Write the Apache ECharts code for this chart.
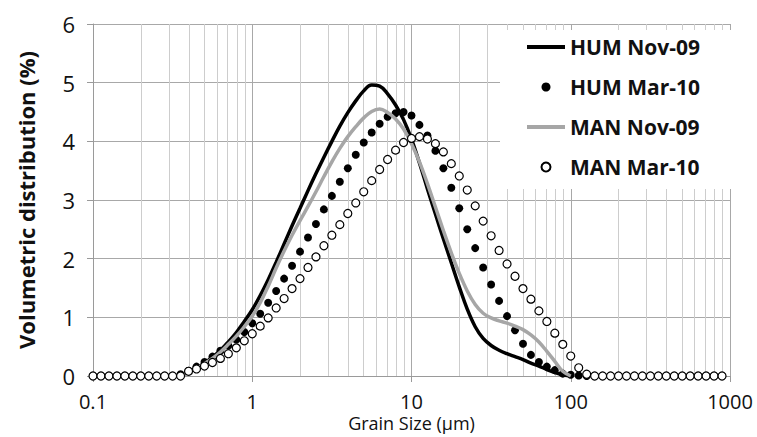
<!DOCTYPE html>
<html>
<head>
<meta charset="utf-8">
<script src="https://cdn.jsdelivr.net/npm/echarts@6/dist/echarts.min.js"></script>
<style>html,body{margin:0;padding:0;background:#fff;}#c{width:757px;height:437px;}</style>
</head>
<body>
<div id="c"></div>
<script>
// Grain sizes (µm), 20 bins per decade
const SIZES = [0.1,0.1122,0.1259,0.1413,0.1585,0.1778,0.1995,0.2239,0.2512,0.2818,
 0.3162,0.3548,0.3981,0.4467,0.5012,0.5623,0.631,0.7079,0.7943,0.8913,
 1,1.122,1.259,1.413,1.585,1.778,1.995,2.239,2.512,2.818,
 3.162,3.548,3.981,4.467,5.012,5.623,6.31,7.079,7.943,8.913,
 10,11.22,12.59,14.13,15.85,17.78,19.95,22.39,25.12,28.18,
 31.62,35.48,39.81,44.67,50.12,56.23,63.1,70.79,79.43,89.13,
 100,112.2,125.9,141.3,158.5,177.8,199.5,223.9,251.2,281.8,
 316.2,354.8,398.1,446.7,501.2,562.3,631,707.9,794.3,891.3];

const HUM_NOV09 = [null,null,null,null,null,null,null,null,null,null,
 null,0.0,0.07,0.14,0.22,0.32,0.44,0.58,0.74,0.93,
 1.13,1.37,1.64,1.94,2.25,2.56,2.86,3.16,3.45,3.73,
 4.00,4.26,4.49,4.69,4.86,4.96,4.94,4.81,4.62,4.37,
 4.04,3.63,3.19,2.76,2.34,1.93,1.52,1.14,0.84,0.64,
 0.52,0.44,0.38,0.33,0.28,0.22,0.17,0.11,0.06,0.02,
 0.0,null,null,null,null,null,null,null,null,null,
 null,null,null,null,null,null,null,null,null,null];

const HUM_MAR10 = [0,0,0,0,0,0,0,0,0,0,
 0,0.03,0.09,0.16,0.24,0.33,0.43,0.52,0.62,0.75,
 0.90,1.06,1.25,1.45,1.66,1.88,2.12,2.36,2.59,2.84,
 3.07,3.31,3.54,3.77,3.98,4.15,4.30,4.42,4.48,4.50,
 4.44,4.28,4.10,3.84,3.54,3.21,2.86,2.50,2.18,1.85,
 1.56,1.28,1.02,0.78,0.55,0.36,0.24,0.16,0.10,0.04,
 0.02,0.01,0,0,0,0,0,0,0,0,
 0,0,0,0,0,0,0,0,0,0];

const MAN_NOV09 = [null,null,null,null,null,null,null,null,null,null,
 null,0.0,0.06,0.13,0.21,0.30,0.41,0.54,0.68,0.84,
 1.02,1.25,1.53,1.84,2.13,2.40,2.65,2.89,3.14,3.40,
 3.65,3.88,4.08,4.25,4.40,4.51,4.55,4.49,4.38,4.21,
 3.96,3.65,3.28,2.88,2.48,2.10,1.75,1.45,1.22,1.07,
 0.99,0.94,0.90,0.85,0.79,0.70,0.58,0.42,0.25,0.08,
 0.0,null,null,null,null,null,null,null,null,null,
 null,null,null,null,null,null,null,null,null,null];

const MAN_MAR10 = [0,0,0,0,0,0,0,0,0,0,
 0,0,0.08,0.12,0.17,0.23,0.30,0.38,0.48,0.60,
 0.72,0.85,0.99,1.16,1.32,1.49,1.66,1.85,2.03,2.22,
 2.40,2.58,2.77,2.95,3.14,3.33,3.52,3.69,3.85,3.98,
 4.05,4.08,4.04,3.96,3.82,3.62,3.41,3.17,2.90,2.64,
 2.39,2.14,1.91,1.70,1.49,1.31,1.11,0.93,0.73,0.54,
 0.34,0.14,0.03,0,0,0,0,0,0,0,
 0,0,0,0,0,0,0,0,0,0];

const SERIES_NAMES = ['HUM Nov-09','HUM Mar-10','MAN Nov-09','MAN Mar-10'];
const X_TICKS = [0.1, 1, 10, 100, 1000];
const MINOR_TICKS = [0.2,0.3,0.4,0.5,0.6,0.7,0.8,0.9,2,3,4,5,6,7,8,9,
 20,30,40,50,60,70,80,90,200,300,400,500,600,700,800,900];

function pairs(vals){
  const out = [];
  vals.forEach((v,i)=>{ if (v !== null) out.push([SIZES[i], v]); });
  return out;
}

const LINE_ICON = 'path://M0,0 L38,0 L38,4 L0,4 Z';
const FONT = '"Open Sans", "Liberation Sans", sans-serif';
const chart = echarts.init(document.getElementById('c'), null, {renderer:'svg'});
chart.setOption({
  animation:false,
  backgroundColor:'#fff',
  grid:{left:93, right:27, top:24, bottom:61, containLabel:false, outerBoundsMode:'none'},
  legend:{
    data:[
      {name:SERIES_NAMES[0], icon:LINE_ICON},
      {name:SERIES_NAMES[1]},
      {name:SERIES_NAMES[2], icon:LINE_ICON},
      {name:SERIES_NAMES[3]}
    ],
    orient:'vertical', left:500, top:30,
    backgroundColor:'#fff',
    padding:[4, 34, 9, 27],
    itemWidth:38, itemHeight:9, itemGap:14,
    textStyle:{fontFamily:FONT, fontSize:21, fontWeight:'bold', color:'#111', lineHeight:26}
  },
  xAxis:{
    type:'log', logBase:10, min:0.1, max:1000,
    name:'Grain Size (µm)', nameLocation:'middle', nameGap:47, nameMoveOverlap:false,
    nameTextStyle:{fontFamily:FONT, fontSize:18, color:'#111', lineHeight:18, verticalAlign:'middle'},
    axisLine:{show:true, lineStyle:{color:'#9a9a9a', width:1}},
    axisTick:{show:true, length:6, lineStyle:{color:'#9a9a9a'}},
    axisLabel:{fontFamily:FONT, fontSize:20, color:'#111', margin:15, lineHeight:20,
      formatter:(v)=>{ const t = X_TICKS.find(x=>Math.abs(x-v)/x<1e-6); return t!==undefined? String(t) : ''; }},
    splitLine:{show:true, lineStyle:{color:'#a8a8a8', width:1}}
  },
  yAxis:{
    type:'value', min:0, max:6, interval:1,
    name:'Volumetric distribution (%)', nameLocation:'middle', nameGap:56, nameRotate:90, nameMoveOverlap:false,
    nameTextStyle:{fontFamily:FONT, fontSize:22, fontWeight:'bold', color:'#111'},
    axisLine:{show:true, lineStyle:{color:'#9a9a9a', width:1}},
    axisTick:{show:true, length:6, lineStyle:{color:'#9a9a9a'}},
    axisLabel:{fontFamily:FONT, fontSize:22, color:'#111', margin:18},
    splitLine:{show:true, lineStyle:{color:'#a8a8a8', width:1}}
  },
  series:[
    {name:SERIES_NAMES[0], type:'line', data:pairs(HUM_NOV09), symbol:'none', smooth:0.4,
     lineStyle:{color:'#000', width:3.5}, itemStyle:{color:'#000'}, z:3},
    {name:SERIES_NAMES[1], type:'scatter', data:pairs(HUM_MAR10), symbol:'circle', symbolSize:8,
     itemStyle:{color:'#000', opacity:1}, z:4},
    {name:SERIES_NAMES[2], type:'line', data:pairs(MAN_NOV09), symbol:'none', smooth:0.4,
     lineStyle:{color:'#a6a6a6', width:3.5}, itemStyle:{color:'#a6a6a6'}, z:5,
     markLine:{silent:true, z:1, symbol:'none', animation:false,
       label:{show:false}, emphasis:{disabled:true},
       lineStyle:{color:'#cdcdcd', width:1, type:'solid'},
       data:MINOR_TICKS.map(v=>({xAxis:v}))}},
    {name:SERIES_NAMES[3], type:'scatter', data:pairs(MAN_MAR10), symbol:'circle', symbolSize:8,
     itemStyle:{color:'#fff', borderColor:'#000', borderWidth:1.2, opacity:1}, z:6}
  ]
});
</script>
</body>
</html>
